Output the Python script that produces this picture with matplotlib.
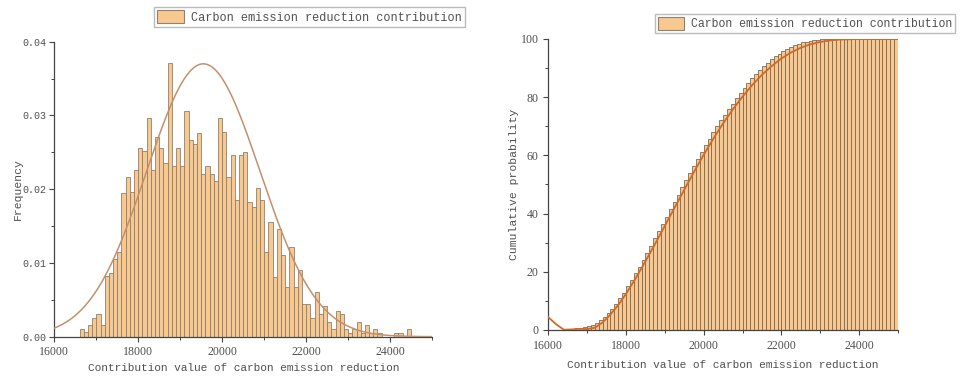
import numpy as np
import matplotlib
matplotlib.use("Agg")
import matplotlib.pyplot as plt
from matplotlib.patches import Patch
from matplotlib.ticker import MultipleLocator

# ---------------- data ----------------
legend_label = "Carbon emission reduction contribution"
x_label = "Contribution value of carbon emission reduction"

bin_width = 100

# Left: relative frequency per 100-wide bin, first bin starts at 16600
freq_first_bin = 16600
frequency = [
    0.0011, 0.0006, 0.0016, 0.0026, 0.0031, 0.0016, 0.0082, 0.0086, 0.0105, 0.0115,
    0.0195, 0.0216, 0.0196, 0.0226, 0.0256, 0.0252, 0.0296, 0.0226, 0.0271, 0.0256,
    0.0235, 0.0371, 0.0232, 0.0256, 0.0232, 0.0306, 0.0267, 0.0261, 0.0276, 0.0221,
    0.0231, 0.0221, 0.0211, 0.0296, 0.0277, 0.0216, 0.0246, 0.0186, 0.0246, 0.0251,
    0.0182, 0.0176, 0.0201, 0.0185, 0.0115, 0.0156, 0.0081, 0.0146, 0.0111, 0.0068,
    0.0121, 0.0068, 0.0090, 0.0045, 0.0045, 0.0026, 0.0060, 0.0031, 0.0041, 0.0020,
    0.0010, 0.0035, 0.0031, 0.0010, 0.0005, 0.0010, 0.0020, 0.0005, 0.0016, 0.0005,
    0.0010, 0.0005, 0.0, 0.0, 0.0, 0.0005, 0.0005, 0.0, 0.0010,
]

# Fitted normal curve shown on the left panel
fit_mean = 19550
fit_sigma = 1350
fit_peak = 0.0370

# Right: cumulative probability (%) per 100-wide bin, first bin starts at 16000
cum_first_bin = 16000
cumulative = [
    0, 0, 0, 0.1, 0.2, 0.3, 0.5, 0.6, 0.8, 1.0,
    1.3, 1.8, 2.5, 3.3, 4.5, 5.8, 7.3, 9.0, 10.9, 12.8,
    15.0, 17.2, 19.5, 21.8, 24.2, 26.6, 29.0, 31.5, 34.0, 36.5,
    39.0, 41.5, 44.0, 46.5, 49.0, 51.5, 54.0, 56.4, 58.8, 61.2,
    63.5, 65.7, 67.9, 70.0, 72.1, 74.0, 75.9, 77.8, 79.6, 81.3,
    83.2, 84.9, 86.5, 88.0, 89.4, 90.7, 91.9, 93.0, 94.0, 95.0,
    95.8, 96.6, 97.3, 97.9, 98.4, 98.8, 99.1, 99.4, 99.6, 99.8,
    99.9, 99.9, 100, 100, 100, 100, 100, 100, 100, 100,
    100, 100, 100, 100, 100, 100, 100, 100, 100, 100,
]

# Cumulative curve
curve_x = [16000, 16200, 16400, 16600, 16800, 17000, 17200, 17400, 17600, 17800,
           18000, 18250, 18500, 18750, 19000, 19250, 19500, 19750, 20000, 20250,
           20500, 20750, 21000, 21250, 21500, 21750, 22000, 22250, 22500, 22750,
           23000, 23250, 23500, 24000, 25000]
curve_y = [4.4, 2.0, 0.1, 0.2, 0.4, 0.3, 0.8, 2.6, 5.3, 8.6,
           12.4, 17.8, 23.6, 29.6, 35.8, 42.0, 48.2, 54.3, 60.2, 65.8,
           71.0, 75.8, 80.2, 84.2, 87.7, 90.7, 93.3, 95.4, 97.0, 98.2,
           99.0, 99.5, 99.8, 100, 100]

# ---------------- style ----------------
bar_face = "#F8C88E"
bar_edge = "#8c8175"
text_col = "#505050"
mono = ["Liberation Mono", "DejaVu Sans Mono"]
serif = ["Liberation Serif", "DejaVu Serif"]

fig = plt.figure(figsize=(9.67, 3.79), dpi=100)

ax1 = fig.add_axes([0.0562, 0.1116, 0.3906, 0.7784])
ax2 = fig.add_axes([0.567, 0.1293, 0.3616, 0.7678])

# left histogram
lx = freq_first_bin + bin_width * np.arange(len(frequency))
ax1.bar(lx, frequency, width=bin_width, align="edge", color=bar_face,
        edgecolor=bar_edge, linewidth=0.6, zorder=2)
cx = np.linspace(16000, 25000, 600)
ax1.plot(cx, fit_peak * np.exp(-0.5 * ((cx - fit_mean) / fit_sigma) ** 2),
         color="#C4906C", lw=1.1, zorder=3)
ax1.set_xlim(16000, 25000)
ax1.set_ylim(0, 0.04)
ax1.xaxis.set_major_locator(MultipleLocator(2000))
ax1.xaxis.set_minor_locator(MultipleLocator(1000))
ax1.yaxis.set_major_locator(MultipleLocator(0.01))
ax1.yaxis.set_minor_locator(MultipleLocator(0.005))
ax1.yaxis.set_major_formatter(matplotlib.ticker.FormatStrFormatter("%.2f"))
ax1.set_ylabel("Frequency", family=mono, fontsize=8.2, color=text_col)
ax1.yaxis.set_label_coords(-0.083, 0.5)

# right cumulative histogram
rx = cum_first_bin + bin_width * np.arange(len(cumulative))
ax2.bar(rx, cumulative, width=bin_width, align="edge", color=bar_face,
        edgecolor="#7d6a58", linewidth=0.6, zorder=2)
ax2.plot(curve_x, curve_y, color="#D06A28", lw=1.3, zorder=3)
ax2.set_xlim(16000, 25000)
ax2.set_ylim(0, 100)
ax2.xaxis.set_major_locator(MultipleLocator(2000))
ax2.xaxis.set_minor_locator(MultipleLocator(1000))
ax2.yaxis.set_major_locator(MultipleLocator(20))
ax2.yaxis.set_minor_locator(MultipleLocator(10))
ax2.set_ylabel("Cumulative probability", family=mono, fontsize=8.2, color=text_col)
ax2.yaxis.set_label_coords(-0.085, 0.5)

for ax in (ax1, ax2):
    for s in ("top", "right"):
        ax.spines[s].set_visible(False)
    for s in ("left", "bottom"):
        ax.spines[s].set_color("#444444")
        ax.spines[s].set_linewidth(0.9)
    ax.tick_params(which="major", direction="out", length=3.5, width=0.8,
                   colors="#444444", labelcolor=text_col, labelsize=8.6)
    ax.tick_params(which="minor", direction="out", length=2, width=0.7, colors="#444444")
    for lab in ax.get_xticklabels() + ax.get_yticklabels():
        lab.set_family(serif)

ax1.tick_params(axis="y", which="major", pad=2)
ax1.set_xlabel(x_label, family=mono, fontsize=8.0, color=text_col, labelpad=3)
ax2.set_xlabel(x_label, family=mono, fontsize=8.0, color=text_col, labelpad=6)
for lab in ax1.get_yticklabels():
    lab.set_family(mono)
    lab.set_fontsize(7.2)

handle = Patch(facecolor=bar_face, edgecolor="#8c8175", linewidth=0.8)
fig.legend([handle], [legend_label], loc="upper left",
           bbox_to_anchor=(0.159, 0.981), prop={"family": mono, "size": 8.6},
           frameon=True, fancybox=False, edgecolor="#bbbbbb", framealpha=1,
           handlelength=2.3, handleheight=1.3, handletextpad=0.6,
           borderpad=0.25, borderaxespad=0, labelcolor=text_col)
fig.legend([handle], [legend_label], loc="upper left",
           bbox_to_anchor=(0.677, 0.962), prop={"family": mono, "size": 8.3},
           frameon=True, fancybox=False, edgecolor="#bbbbbb", framealpha=1,
           handlelength=2.3, handleheight=1.3, handletextpad=0.6,
           borderpad=0.25, borderaxespad=0, labelcolor=text_col)

fig.savefig("out.png", dpi=100)
